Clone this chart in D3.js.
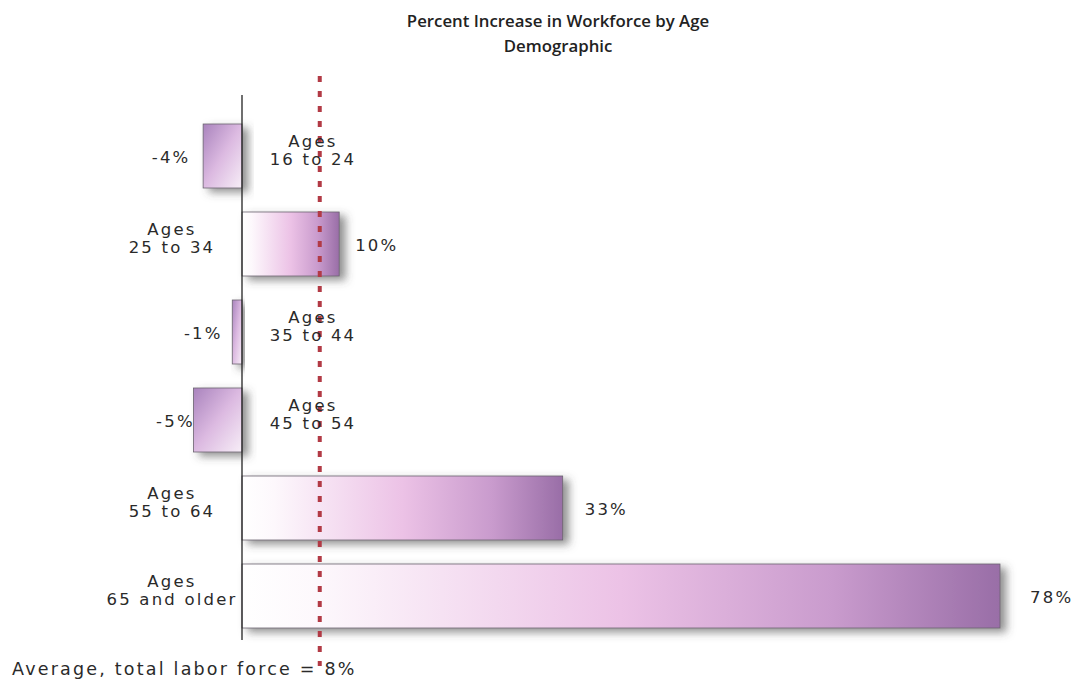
<!DOCTYPE html>
<html>
<head>
<meta charset="utf-8">
<script src="https://cdn.jsdelivr.net/npm/d3@7/dist/d3.min.js"></script>
<style>
  html, body { margin: 0; padding: 0; background: #fff; }
  svg { display: block; }
  .title { font-family: "Open Sans", sans-serif; font-weight: 600; font-size: 16.8px; fill: #222; }
  .lbl { font-family: "DejaVu Sans", Verdana, sans-serif; font-size: 16.5px; fill: #2a2a2a; letter-spacing: 2.2px; }
</style>
</head>
<body>
<svg id="chart" width="1081" height="679"></svg>
<script>
// Age groups, top to bottom
const categories = ["Ages 16 to 24", "Ages 25 to 34", "Ages 35 to 44", "Ages 45 to 54", "Ages 55 to 64", "Ages 65 and older"];
// Two-line label text for each group
const categoryLines = [["Ages", "16 to 24"], ["Ages", "25 to 34"], ["Ages", "35 to 44"], ["Ages", "45 to 54"], ["Ages", "55 to 64"], ["Ages", "65 and older"]];
// Percent change in workforce
const values = [-4, 10, -1, -5, 33, 78];
// Average for the total labor force
const averageValue = 8;
const titleLines = ["Percent Increase in Workforce by Age", "Demographic"];
const footnote = "Average, total labor force = 8%";

// Gap between each bar end and its value label (px)
const labelGap = [32, 16, 29, 18, 22, 30];

const svg = d3.select("#chart");

const x = d3.scaleLinear().domain([0, 78]).range([242, 1000]);
const y = d3.scaleBand().domain(categories).range([112, 640])
  .paddingInner(24 / 88).paddingOuter(12 / 88);

const defs = svg.append("defs");

// Soft drop shadow to the lower right of each bar
const shadow = defs.append("filter").attr("id", "shadow")
  .attr("x", "-10%").attr("y", "-20%").attr("width", "140%").attr("height", "160%");
shadow.append("feDropShadow").attr("dx", 6).attr("dy", 4).attr("stdDeviation", 4.5)
  .attr("flood-color", "#4a4a4a").attr("flood-opacity", 0.6);

// Positive bars: white at the axis fading through pink to violet
const gPos = defs.append("linearGradient").attr("id", "gradPos")
  .attr("x1", "0").attr("y1", "0").attr("x2", "1").attr("y2", "0");
[[0, "#ffffff"], [0.1, "#fdf8fc"], [0.5, "#ecc2e6"], [0.78, "#c99bcd"], [1, "#996ea7"]]
  .forEach(([o, c]) => gPos.append("stop").attr("offset", o).attr("stop-color", c));

// Negative bars: violet at the far end, lighter toward the axis
const gNeg = defs.append("linearGradient").attr("id", "gradNeg")
  .attr("x1", "0").attr("y1", "0").attr("x2", "1").attr("y2", "1");
[[0, "#a983bd"], [0.5, "#dcbae1"], [1, "#f7eef7"]]
  .forEach(([o, c]) => gNeg.append("stop").attr("offset", o).attr("stop-color", c));

// Title
svg.append("g").selectAll("text").data(titleLines).join("text")
  .attr("class", "title").attr("text-anchor", "middle")
  .attr("x", 558).attr("y", (d, i) => 27 + i * 25).text(d => d);

// Bars
svg.append("g").selectAll("rect").data(values).join("rect")
  .attr("x", d => Math.min(x(0), x(d)))
  .attr("width", d => Math.abs(x(d) - x(0)))
  .attr("y", (d, i) => y(categories[i]))
  .attr("height", y.bandwidth())
  .attr("fill", d => d >= 0 ? "url(#gradPos)" : "url(#gradNeg)")
  .attr("stroke", "#6b6470").attr("stroke-width", 0.8)
  .attr("filter", "url(#shadow)");

// Zero axis
svg.append("line")
  .attr("x1", x(0)).attr("x2", x(0)).attr("y1", 95).attr("y2", 640)
  .attr("stroke", "#222").attr("stroke-width", 1.3);

// Average marker line
svg.append("line")
  .attr("x1", x(averageValue)).attr("x2", x(averageValue)).attr("y1", 76).attr("y2", 666)
  .attr("stroke", "#b23a45").attr("stroke-width", 4).attr("stroke-dasharray", "6,9");

// Value labels: outside the end of each bar
svg.append("g").selectAll("text").data(values).join("text")
  .attr("class", "lbl")
  .attr("text-anchor", d => d >= 0 ? "start" : "middle")
  .attr("x", (d, i) => d >= 0 ? x(d) + labelGap[i] : x(d) - labelGap[i])
  .attr("y", (d, i) => y(categories[i]) + y.bandwidth() / 2 + 7)
  .text(d => d + "%");

// Category labels: on the opposite side of the axis from the bar
const catG = svg.append("g").selectAll("text").data(values).join("text")
  .attr("class", "lbl").attr("text-anchor", "middle")
  .attr("x", d => d >= 0 ? 172 : 313)
  .attr("y", (d, i) => y(categories[i]) + y.bandwidth() / 2 - 9);
catG.selectAll("tspan").data((d, i) => categoryLines[i]).join("tspan")
  .attr("x", function () { return this.parentNode.getAttribute("x"); })
  .attr("dy", (d, i) => i === 0 ? 0 : 17.5)
  .text(d => d);

// Footnote
svg.append("text").attr("class", "lbl").attr("x", 12).attr("y", 675)
  .style("font-size", "17.5px").style("letter-spacing", "2.2px").text(footnote);
</script>
</body>
</html>
